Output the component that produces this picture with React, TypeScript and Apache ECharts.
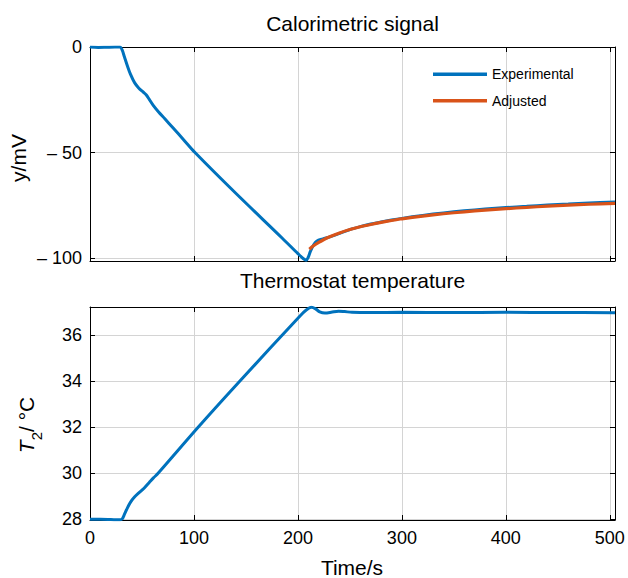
import React, { useEffect, useRef } from "react";
import * as echarts from "echarts";

// ---- Data ----
const signalTime = [0, 8, 16, 24, 29, 31, 33, 36, 39, 43, 47, 51, 54, 57, 61, 66, 72, 80, 90, 101, 140, 185, 200, 205, 208, 210, 212, 215, 218, 224, 230, 240, 250, 260, 270, 280, 290, 300, 320, 340, 360, 380, 400, 420, 440, 460, 480, 505];
const signalExperimental = [0, -0.2, -0.1, 0, 0, -1.5, -4.5, -9, -13, -17, -19.5, -21.3, -22.6, -24.8, -27.8, -30.8, -34, -38.4, -43.9, -50, -69.2, -90.6, -97.9, -100.2, -101, -99.5, -96.8, -93.8, -92, -90.9, -90.1, -88.3, -86.5, -85.1, -83.9, -82.9, -82, -81.2, -79.8, -78.6, -77.6, -76.8, -76.1, -75.5, -74.9, -74.4, -73.9, -73.4];

const adjustedTime = [211, 215, 220, 225, 230, 240, 250, 260, 270, 280, 290, 300, 320, 340, 360, 380, 400, 420, 440, 460, 480, 505];
const signalAdjusted = [-95.8, -94.2, -92.6, -91.2, -90.0, -88.1, -86.5, -85.2, -84.1, -83.1, -82.2, -81.4, -80.1, -79.0, -78.1, -77.3, -76.6, -76.0, -75.4, -74.9, -74.5, -74.1];

const tempTime = [0, 10, 20, 29, 31, 33, 36, 39, 43, 47, 52, 57, 61, 65.5, 104, 144, 202, 208, 213, 217, 221, 226, 232, 239, 245, 252, 270, 300, 350, 400, 450, 505];
const tempValues = [28, 28, 27.99, 27.98, 28.02, 28.2, 28.5, 28.75, 28.98, 29.15, 29.35, 29.6, 29.8, 30.0, 32.0, 34.0, 36.84, 37.1, 37.22, 37.15, 37.02, 36.97, 37.0, 37.05, 37.03, 37.0, 36.99, 37.0, 36.99, 37.0, 36.99, 36.98];

const timeTicks = [0, 100, 200, 300, 400, 500];
const signalTicks = [-100, -50, 0];
const tempTicks = [28, 30, 32, 34, 36];

const FONT = "'Liberation Sans', Arial, Helvetica, sans-serif";
const BLUE = "#0072BD";
const ORANGE = "#D95319";
const GRID_COLOR = "#d4d4d4";

function pairs(xs: number[], ys: number[]) {
  return xs.map((x, i) => [x, ys[i]]);
}

export default function App() {
  const ref = useRef<HTMLDivElement>(null);

  useEffect(() => {
    if (!ref.current) return;
    const chart = echarts.init(ref.current, null, { renderer: "svg" });

    const tickStyle = { show: true, inside: true, length: 5, lineStyle: { color: "#000", width: 1 } };
    const lineStyle = { show: true, onZero: false, lineStyle: { color: "#000", width: 1 } };

    const xBase = (grid: number, pos: "top" | "bottom", labels: boolean, split: boolean) => ({
      type: "value" as const,
      gridIndex: grid,
      position: pos,
      min: 0,
      max: 505,
      axisLine: lineStyle,
      axisTick: { ...tickStyle, customValues: timeTicks },
      axisLabel: {
        show: labels,
        customValues: timeTicks,
        color: "#000",
        fontSize: 18,
        fontFamily: FONT,
        margin: 9,
      },
      splitLine: { show: split, lineStyle: { color: GRID_COLOR, width: 1 } },
    });

    const yBase = (
      grid: number,
      pos: "left" | "right",
      min: number,
      max: number,
      ticks: number[],
      labels: boolean,
      split: boolean,
      formatter?: (v: number) => string
    ) => ({
      type: "value" as const,
      gridIndex: grid,
      position: pos,
      min,
      max,
      axisLine: lineStyle,
      axisTick: { ...tickStyle, customValues: ticks },
      axisLabel: {
        show: labels,
        customValues: ticks,
        color: "#000",
        fontSize: 18,
        fontFamily: FONT,
        margin: 8,
        formatter,
      },
      splitLine: { show: split, lineStyle: { color: GRID_COLOR, width: 1 } },
    });

    const signalFmt = (v: number) => (v < 0 ? "\u2013 " + Math.abs(v) : String(v));

    const option: any = {
      animation: false,
      backgroundColor: "#fff",
      textStyle: { fontFamily: FONT },
      grid: [
        { left: 90, top: 47, width: 525, height: 214 },
        { left: 90, top: 307, width: 525, height: 213 },
      ],
      xAxis: [
        xBase(0, "bottom", false, true),
        xBase(0, "top", false, false),
        xBase(1, "bottom", true, true),
        xBase(1, "top", false, false),
      ],
      yAxis: [
        yBase(0, "left", -101.4, 0, signalTicks, true, true, signalFmt),
        yBase(0, "right", -101.4, 0, signalTicks, false, false),
        yBase(1, "left", 27.97, 37.23, tempTicks, true, true),
        yBase(1, "right", 27.97, 37.23, tempTicks, false, false),
      ],
      legend: {
        data: ["Experimental", "Adjusted"],
        orient: "vertical",
        left: 433,
        top: 66.3,
        padding: 0,
        itemWidth: 54,
        itemHeight: 3.5,
        itemGap: 10.4,
        icon: "rect",
        textStyle: { fontSize: 14, lineHeight: 16, color: "#000", fontFamily: FONT },
      },
      series: [
        {
          name: "Experimental",
          type: "line",
          xAxisIndex: 0,
          yAxisIndex: 0,
          data: pairs(signalTime, signalExperimental),
          showSymbol: false,
          smooth: 0.3,
          color: BLUE,
          lineStyle: { color: BLUE, width: 3 },
          itemStyle: { color: BLUE },
          z: 3,
        },
        {
          name: "Adjusted",
          type: "line",
          xAxisIndex: 0,
          yAxisIndex: 0,
          data: pairs(adjustedTime, signalAdjusted),
          showSymbol: false,
          smooth: 0.3,
          color: ORANGE,
          lineStyle: { color: ORANGE, width: 3.2 },
          itemStyle: { color: ORANGE },
          z: 4,
        },
        {
          name: "Thermostat",
          type: "line",
          xAxisIndex: 2,
          yAxisIndex: 2,
          data: pairs(tempTime, tempValues),
          showSymbol: false,
          smooth: 0.3,
          color: BLUE,
          lineStyle: { color: BLUE, width: 3 },
          itemStyle: { color: BLUE },
          z: 3,
        },
      ],
      graphic: [
        {
          type: "text",
          x: 352.5,
          y: 23,
          style: { text: "Calorimetric signal", fontSize: 21, fontFamily: FONT, fill: "#000", align: "center", verticalAlign: "middle" },
        },
        {
          type: "text",
          x: 352.5,
          y: 280,
          style: { text: "Thermostat temperature", fontSize: 21, fontFamily: FONT, fill: "#000", align: "center", verticalAlign: "middle" },
        },
        {
          type: "text",
          x: 352,
          y: 567,
          style: { text: "Time/s", fontSize: 21, fontFamily: FONT, fill: "#000", align: "center", verticalAlign: "middle" },
        },
        {
          type: "text",
          x: 18.5,
          y: 158,
          rotation: Math.PI / 2,
          style: { text: "y/mV", fontSize: 21, fontFamily: FONT, fill: "#000", align: "center", verticalAlign: "middle" },
        },
        {
          type: "text",
          x: 26.5,
          y: 425,
          rotation: Math.PI / 2,
          style: {
            text: "{t|T}{s|2}{n|/ °C}",
            fontFamily: FONT,
            fill: "#000",
            align: "center",
            verticalAlign: "middle",
            rich: {
              t: { fontSize: 21, fontStyle: "italic", fontFamily: FONT, fill: "#000", lineHeight: 22, verticalAlign: "middle" },
              s: { fontSize: 15, fontFamily: FONT, fill: "#000", lineHeight: 34, verticalAlign: "bottom" },
              n: { fontSize: 21, fontFamily: FONT, fill: "#000", lineHeight: 22, verticalAlign: "middle" },
            },
          },
        },
      ],
    };

    chart.setOption(option);
    return () => chart.dispose();
  }, []);

  return (
    <div
      ref={ref}
      style={{ position: "fixed", left: 0, top: 0, width: 628, height: 578, background: "#fff" }}
    />
  );
}
